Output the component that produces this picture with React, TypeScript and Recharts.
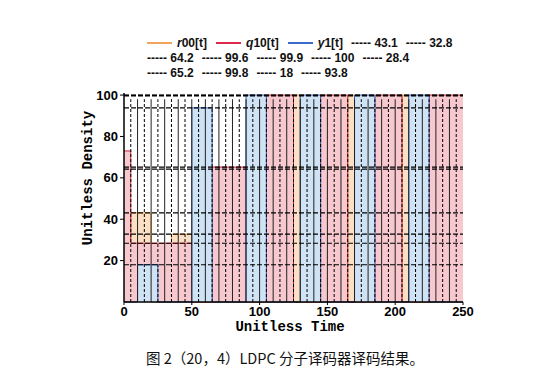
import React from 'react';
import { ComposedChart, Area, XAxis, YAxis, ReferenceLine } from 'recharts';

// step breakpoints (Unitless Time) and series values holding from each breakpoint
const times = [0, 5, 10, 20, 25, 35, 50, 65, 90, 105, 125, 130, 145, 165, 170, 185, 205, 210, 225, 250];
const r00 = [0, 43.1, 43.1, 0, 0, 32.8, 0, 0, 0, 0, 100, 0, 0, 100, 0, 0, 100, 0, 0, 0];
const q10 = [73, 28.4, 28.4, 28.4, 28.4, 28.4, 0, 65.2, 0, 100, 0, 0, 100, 0, 0, 100, 0, 0, 100, 100];
const y1 = [0, 0, 18, 18, 0, 0, 93.8, 0, 100, 0, 0, 100, 0, 0, 100, 0, 0, 100, 0, 0];

const levels = [43.1, 32.8, 64.2, 99.6, 99.9, 100, 28.4, 65.2, 99.8, 18, 93.8];
const legendRows = [
  ['43.1', '32.8'],
  ['64.2', '99.6', '99.9', '100', '28.4'],
  ['65.2', '99.8', '18', '93.8'],
];
const xTicks = [0, 50, 100, 150, 200, 250];
const yTicks = [20, 40, 60, 80, 100];
const gridTimes = Array.from({ length: 49 }, (_, i) => (i + 1) * 5);

const data = times.map((t, i) => ({ t, r00: r00[i], q10: q10[i], y1: y1[i] }));

const tickStyle = { fontFamily: 'Liberation Sans, Arial, sans-serif', fontWeight: 700, fontSize: 13, fill: '#000' };
const legendFont = { fontFamily: 'Liberation Sans, Arial, sans-serif', fontWeight: 700, fontSize: 12, color: '#111' };

const Swatch = ({ color }: { color: string }) => (
  <span style={{ display: 'inline-block', width: 25, height: 2, background: color, verticalAlign: 'middle', marginRight: 5, marginBottom: 2 }} />
);

const SeriesName = ({ v }: { v: string }) => (
  <span><i>{v.charAt(0)}</i>{v.slice(1)}[t]</span>
);

export default function App() {
  return (
    <div style={{ position: 'absolute', left: 0, top: 0, width: 550, height: 382, background: '#fff' }}>
      <div style={{ position: 'absolute', left: 147, top: 36, ...legendFont, lineHeight: '15px', whiteSpace: 'nowrap' }}>
        <div>
          <Swatch color="#F2A45C" /><SeriesName v="r00" />
          <span style={{ marginLeft: 9 }}><Swatch color="#E0294A" /><SeriesName v="q10" /></span>
          <span style={{ marginLeft: 9 }}><Swatch color="#3A6BC8" /><SeriesName v="y1" /></span>
          {legendRows[0].map((v) => (
            <span key={v} style={{ marginLeft: 8 }}>----- {v}</span>
          ))}
        </div>
        {legendRows.slice(1).map((row, ri) => (
          <div key={ri}>
            {row.map((v, i) => (
              <span key={v} style={{ marginLeft: i === 0 ? 0 : 8 }}>----- {v}</span>
            ))}
          </div>
        ))}
      </div>

      <ComposedChart
        width={550}
        height={382}
        data={data}
        margin={{ top: 93, right: 87, bottom: 50, left: 84 }}
        style={{ position: 'absolute', left: 0, top: 0 }}
      >
        <XAxis
          dataKey="t"
          type="number"
          domain={[0, 250]}
          ticks={xTicks}
          tick={tickStyle}
          tickSize={3}
          height={30}
          axisLine={{ stroke: '#000', strokeWidth: 1.5 }}
          tickLine={{ stroke: '#000' }}
        />
        <YAxis
          type="number"
          domain={[0, 101]}
          ticks={yTicks}
          tick={tickStyle}
          tickSize={4}
          width={40}
          axisLine={{ stroke: '#000', strokeWidth: 1.5 }}
          tickLine={{ stroke: '#000' }}
        />
        <Area type="stepAfter" dataKey="r00" stroke="#E8923A" strokeWidth={1} fill="#FCE0C6" fillOpacity={1} isAnimationActive={false} />
        <Area type="stepAfter" dataKey="q10" stroke="#C8203A" strokeWidth={1} fill="#F7C9CE" fillOpacity={1} isAnimationActive={false} />
        <Area type="stepAfter" dataKey="y1" stroke="#2F5FB8" strokeWidth={1} fill="#CFE3F4" fillOpacity={1} isAnimationActive={false} />
        {gridTimes.map((x) => (
          <ReferenceLine
            key={`v${x}`}
            segment={[{ x, y: 0 }, { x, y: 98 }]}
            stroke={x % 10 === 0 ? '#222' : '#000'}
            strokeWidth={1}
            strokeDasharray={x % 10 === 0 ? undefined : '3 2'}
          />
        ))}
        {levels.map((v) => (
          <ReferenceLine key={`h${v}`} y={v} stroke="#000" strokeWidth={1.2} strokeDasharray="5 2" />
        ))}
      </ComposedChart>

      <div
        style={{
          position: 'absolute',
          left: 88 - 80,
          top: 178 - 9,
          width: 160,
          textAlign: 'center',
          transform: 'rotate(-90deg)',
          fontFamily: 'Liberation Mono, Courier New, monospace',
          fontWeight: 700,
          fontSize: 14,
          lineHeight: '18px',
          color: '#000',
        }}
      >
        Unitless Density
      </div>
      <div
        style={{
          position: 'absolute',
          left: 210,
          top: 320,
          width: 160,
          textAlign: 'center',
          fontFamily: 'Liberation Mono, Courier New, monospace',
          fontWeight: 700,
          fontSize: 14,
          lineHeight: '14px',
          color: '#000',
        }}
      >
        Unitless Time
      </div>
      <div
        style={{
          position: 'absolute',
          left: 10,
          top: 348,
          width: 550,
          textAlign: 'center',
          fontFamily: '"Noto Sans CJK SC", "Noto Sans", sans-serif',
          fontSize: 14.5,
          lineHeight: '20px',
          color: '#111',
        }}
      >
        图 2（20，4）LDPC 分子译码器译码结果。
      </div>
    </div>
  );
}
